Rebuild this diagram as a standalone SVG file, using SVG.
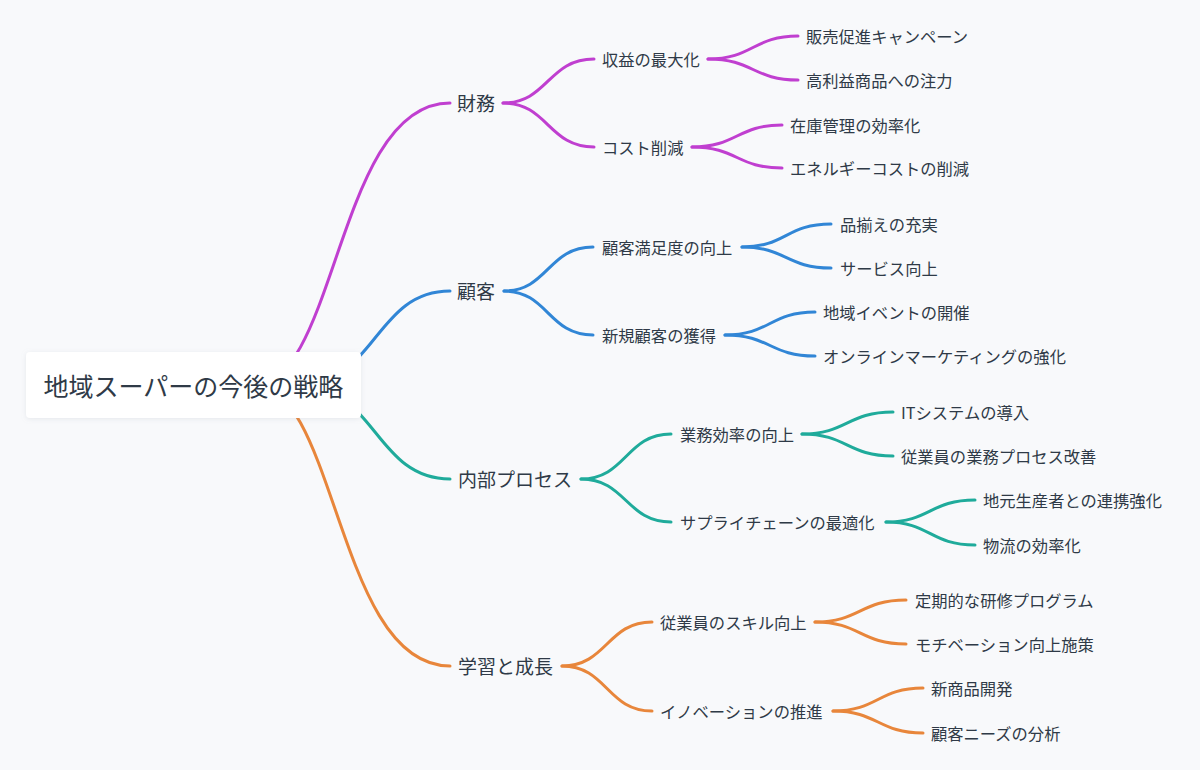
<svg xmlns="http://www.w3.org/2000/svg" width="1200" height="770" viewBox="0 0 1200 770">
  <defs>
    <filter id="shadow" x="-10%" y="-30%" width="120%" height="160%">
      <feDropShadow dx="0" dy="1" stdDeviation="2.5" flood-color="#8a94a6" flood-opacity="0.18"/>
    </filter>
    <style>
      .bg { fill: #f8f9fb; }
      text { font-family: "Noto Sans CJK JP", "Noto Sans", "Liberation Sans", sans-serif; fill: #2f3a47; dominant-baseline: central; }
      .root { font-size: 25px; text-anchor: middle; }
      .l1 { font-size: 19px; }
      .l2 { font-size: 16.3px; }
      .l3 { font-size: 16.3px; }
      .edge { fill: none; stroke-width: 3; stroke-linecap: round; }
      .purple { stroke: #c03fd0; }
      .blue { stroke: #3186d6; }
      .teal { stroke: #1fab9b; }
      .orange { stroke: #e8863b; }
    </style>
  </defs>
  <rect class="bg" x="0" y="0" width="1200" height="770"/>

  <g id="connectors">
    <!-- root to level 1 -->
    <path class="edge purple" d="M254 385 C337 385 337 103 450 103"/>
    <path class="edge blue" d="M300 385 C375 385 375 291 450 291"/>
    <path class="edge teal" d="M300 385 C375 385 375 479 450 479"/>
    <path class="edge orange" d="M254 385 C337 385 337 666 450 666"/>

    <!-- 財務 -->
    <path class="edge purple" d="M503 103 C548 103 548 59 594 59"/>
    <path class="edge purple" d="M503 103 C548 103 548 147 594 147"/>
    <path class="edge purple" d="M708 59 C753 59 753 36 798 36"/>
    <path class="edge purple" d="M708 59 C753 59 753 80 798 80"/>
    <path class="edge purple" d="M692 147 C737 147 737 125 782 125"/>
    <path class="edge purple" d="M692 147 C737 147 737 168 782 168"/>

    <!-- 顧客 -->
    <path class="edge blue" d="M504 291 C548 291 548 247 593 247"/>
    <path class="edge blue" d="M504 291 C548 291 548 335 593 335"/>
    <path class="edge blue" d="M742 247 C786 247 786 224 831 224"/>
    <path class="edge blue" d="M742 247 C786 247 786 268 831 268"/>
    <path class="edge blue" d="M725 335 C770 335 770 312 815 312"/>
    <path class="edge blue" d="M725 335 C770 335 770 356 815 356"/>

    <!-- 内部プロセス -->
    <path class="edge teal" d="M581 479 C626 479 626 434 671 434"/>
    <path class="edge teal" d="M581 479 C626 479 626 522 671 522"/>
    <path class="edge teal" d="M802 434 C847 434 847 412 893 412"/>
    <path class="edge teal" d="M802 434 C847 434 847 456 893 456"/>
    <path class="edge teal" d="M886 522 C930 522 930 500 975 500"/>
    <path class="edge teal" d="M886 522 C930 522 930 545 975 545"/>

    <!-- 学習と成長 -->
    <path class="edge orange" d="M562 666 C607 666 607 622 652 622"/>
    <path class="edge orange" d="M562 666 C607 666 607 711 652 711"/>
    <path class="edge orange" d="M815 622 C860 622 860 600 906 600"/>
    <path class="edge orange" d="M815 622 C860 622 860 644 906 644"/>
    <path class="edge orange" d="M833 711 C878 711 878 688 923 688"/>
    <path class="edge orange" d="M833 711 C878 711 878 733 923 733"/>
  </g>

  <g id="root">
    <rect x="26" y="352" width="335" height="66" rx="4" fill="#ffffff" filter="url(#shadow)"/>
    <text class="root" x="193.5" y="384.5">地域スーパーの今後の戦略</text>
  </g>

  <g id="n-zaimu"><text class="l1" x="457" y="102.5">財務</text></g>
  <g id="n-kokyaku"><text class="l1" x="457" y="290.5">顧客</text></g>
  <g id="n-naibu"><text class="l1" x="458" y="478.5">内部プロセス</text></g>
  <g id="n-gakushu"><text class="l1" x="458" y="665.5">学習と成長</text></g>

  <g id="n-shueki"><text class="l2" x="602" y="58.5">収益の最大化</text></g>
  <g id="n-cost"><text class="l2" x="602" y="146.5">コスト削減</text></g>
  <g id="n-manzoku"><text class="l2" x="602" y="246.5">顧客満足度の向上</text></g>
  <g id="n-shinki"><text class="l2" x="602" y="334.5">新規顧客の獲得</text></g>
  <g id="n-gyomu"><text class="l2" x="680" y="433.5">業務効率の向上</text></g>
  <g id="n-supply"><text class="l2" x="680" y="521.5">サプライチェーンの最適化</text></g>
  <g id="n-skill"><text class="l2" x="660" y="621.5">従業員のスキル向上</text></g>
  <g id="n-innov"><text class="l2" x="660" y="710.5">イノベーションの推進</text></g>

  <g id="n-hanbai"><text class="l3" x="806" y="35.5">販売促進キャンペーン</text></g>
  <g id="n-korieki"><text class="l3" x="806" y="79.5">高利益商品への注力</text></g>
  <g id="n-zaiko"><text class="l3" x="790" y="124.5">在庫管理の効率化</text></g>
  <g id="n-energy"><text class="l3" x="790" y="167.5">エネルギーコストの削減</text></g>
  <g id="n-shinazoroe"><text class="l3" x="840" y="223.5">品揃えの充実</text></g>
  <g id="n-service"><text class="l3" x="840" y="267.5">サービス向上</text></g>
  <g id="n-event"><text class="l3" x="823" y="311.5">地域イベントの開催</text></g>
  <g id="n-online"><text class="l3" x="823" y="355.5">オンラインマーケティングの強化</text></g>
  <g id="n-it"><text class="l3" x="901" y="411.5">ITシステムの導入</text></g>
  <g id="n-process"><text class="l3" x="901" y="455.5">従業員の業務プロセス改善</text></g>
  <g id="n-renkei"><text class="l3" x="983" y="499.5">地元生産者との連携強化</text></g>
  <g id="n-butsuryu"><text class="l3" x="983" y="544.5">物流の効率化</text></g>
  <g id="n-kenshu"><text class="l3" x="915" y="599.5">定期的な研修プログラム</text></g>
  <g id="n-motivation"><text class="l3" x="915" y="643.5">モチベーション向上施策</text></g>
  <g id="n-shinshohin"><text class="l3" x="931" y="687.5">新商品開発</text></g>
  <g id="n-needs"><text class="l3" x="931" y="732.5">顧客ニーズの分析</text></g>
</svg>
